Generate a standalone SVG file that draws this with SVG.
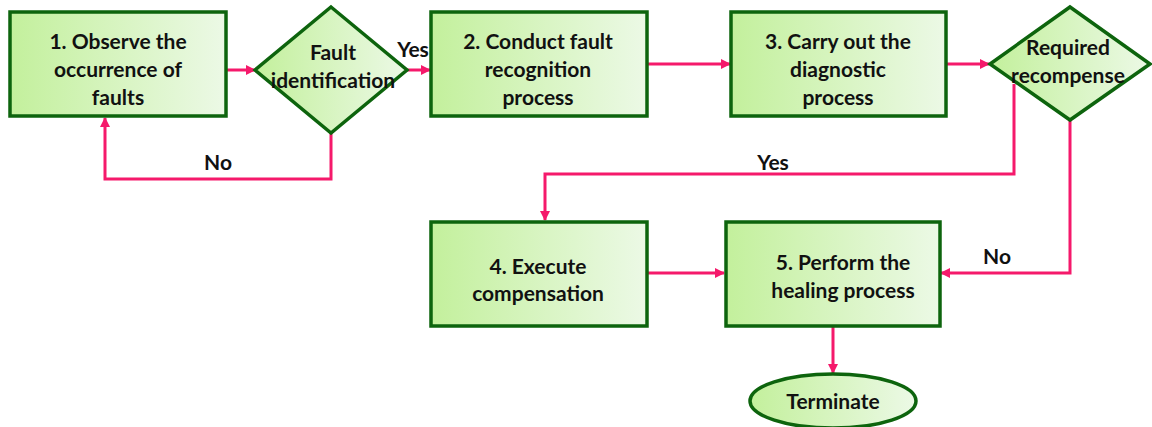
<svg xmlns="http://www.w3.org/2000/svg" width="1152" height="427" viewBox="0 0 1152 427">
<defs>
<linearGradient id="g" x1="0" y1="0" x2="1" y2="0">
<stop offset="0" stop-color="#c3f09c"/>
<stop offset="1" stop-color="#ecf9e6"/>
</linearGradient>
<marker id="ah" viewBox="0 0 10 10" refX="9" refY="5" markerWidth="10" markerHeight="10" markerUnits="userSpaceOnUse" orient="auto">
<path d="M0,0 L10,5 L0,10 z" fill="#f5196b"/>
</marker>
</defs>
<style>
.n{fill:url(#g);stroke:#0d640d;stroke-width:3.5}
.t{font-family:Lato,"Open Sans",sans-serif;font-weight:bold;font-size:21px;fill:#111;text-anchor:middle}
.c{fill:none;stroke:#f5196b;stroke-width:3;marker-end:url(#ah)}
</style>
<rect width="1152" height="427" fill="#fff"/>
<g id="connectors">
<path class="c" d="M226,70 H255"/>
<path class="c" d="M407,70 H430"/>
<path class="c" d="M331,133 V179 H105 V118"/>
<path class="c" d="M647,64 H730"/>
<path class="c" d="M946,64 H989"/>
<path class="c" d="M1014,84 V174 H545 V220"/>
<path class="c" d="M1070,120 V273 H941"/>
<path class="c" d="M647,273 H724"/>
<path class="c" d="M833,326 V373"/>
<text class="t" x="413" y="57">Yes</text>
<text class="t" x="218" y="170">No</text>
<text class="t" x="773" y="170">Yes</text>
<text class="t" x="997" y="264">No</text>
</g>
<g id="n1">
<rect class="n" x="10" y="12" width="216" height="104"/>
<text class="t" x="118" y="49">1. Observe the</text>
<text class="t" x="118" y="77">occurrence of</text>
<text class="t" x="118" y="105">faults</text>
</g>
<g id="d1">
<polygon class="n" points="331,7 407,70 331,133 255,70"/>
<text class="t" x="333" y="60">Fault</text>
<text class="t" x="333" y="88">identification</text>
</g>
<g id="n2">
<rect class="n" x="431" y="12" width="216" height="104"/>
<text class="t" x="538" y="49">2. Conduct fault</text>
<text class="t" x="538" y="77">recognition</text>
<text class="t" x="538" y="105">process</text>
</g>
<g id="n3">
<rect class="n" x="731" y="12" width="215" height="104"/>
<text class="t" x="838" y="49">3. Carry out the</text>
<text class="t" x="838" y="77">diagnostic</text>
<text class="t" x="838" y="105">process</text>
</g>
<g id="d2">
<polygon class="n" points="1070,7 1150,64 1070,120 990,64"/>
<text class="t" x="1068" y="55">Required</text>
<text class="t" x="1068" y="83">recompense</text>
</g>
<g id="n4">
<rect class="n" x="431" y="222" width="216" height="104"/>
<text class="t" x="538" y="274">4. Execute</text>
<text class="t" x="538" y="301">compensation</text>
</g>
<g id="n5">
<rect class="n" x="726" y="222" width="214" height="104"/>
<text class="t" x="843" y="270">5. Perform the</text>
<text class="t" x="843" y="298">healing process</text>
</g>
<g id="term">
<ellipse class="n" cx="833" cy="401" rx="83" ry="27"/>
<text class="t" x="833" y="409">Terminate</text>
</g>
</svg>
